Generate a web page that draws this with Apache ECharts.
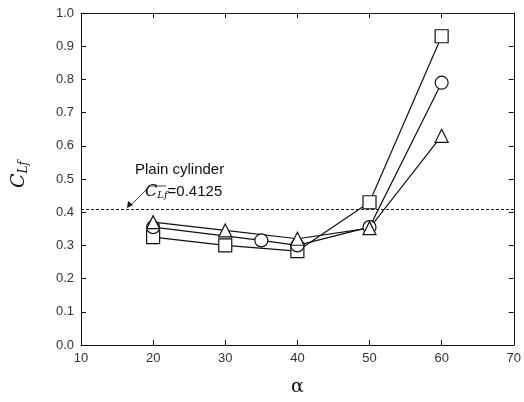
<!DOCTYPE html>
<html>
<head>
<meta charset="utf-8">
<script src="https://cdn.jsdelivr.net/npm/echarts@6/dist/echarts.min.js"></script>
<style>
  html, body { margin: 0; padding: 0; background: #fff; }
  #chart { width: 524px; height: 402px; }
</style>
</head>
<body>
<div id="chart"></div>
<script>
// values
var squareData = [[20, 0.325], [30, 0.300], [40, 0.283], [50, 0.430], [60, 0.930]];
var circleData = [[20, 0.355], [35, 0.315], [40, 0.300], [50, 0.355], [60, 0.790]];
var triangleData = [[20, 0.370], [30, 0.345], [40, 0.320], [50, 0.352], [60, 0.630]];
var plainCylinder = 0.4125;

var font = 'Liberation Sans, Arial, sans-serif';
var ink = '#111';

function series(name, data, symbol, size) {
    return {
        name: name,
        type: 'line',
        data: data,
        symbol: symbol,
        symbolSize: size,
        showAllSymbol: true,
        lineStyle: { color: ink, width: 1.2 },
        itemStyle: { color: '#fff', borderColor: ink, borderWidth: 1.2 },
        emphasis: { disabled: true },
        z: 3
    };
}

function axisOpts(extra) {
    var o = {
        type: 'value',
        axisLine: { show: true, onZero: false, lineStyle: { color: ink, width: 1 } },
        axisTick: { show: true, inside: true, length: 5, lineStyle: { color: ink, width: 1 } },
        splitLine: { show: false }
    };
    for (var k in extra) o[k] = extra[k];
    return o;
}

var chart = echarts.init(document.getElementById('chart'));

chart.setOption({
    animation: false,
    grid: { left: 81, right: 5, top: 13, bottom: 55 },
    xAxis: [
        axisOpts({
            min: 10, max: 70, interval: 10,
            name: 'α', nameLocation: 'middle', nameGap: 33,
            nameTextStyle: { fontFamily: 'DejaVu Serif, serif', fontSize: 19, color: ink },
            axisLabel: { fontFamily: font, fontSize: 13, color: '#333', margin: 7 }
        }),
        axisOpts({
            position: 'top', min: 10, max: 70, interval: 10,
            axisLabel: { show: false }
        })
    ],
    yAxis: [
        axisOpts({
            min: 0, max: 1, interval: 0.1,
            axisLabel: {
                fontFamily: font, fontSize: 13, color: '#333', margin: 7,
                formatter: function (v) { return v.toFixed(1); }
            }
        }),
        axisOpts({
            position: 'right', min: 0, max: 1, interval: 0.1,
            axisLabel: { show: false }
        })
    ],
    series: [
        series('square', squareData, 'rect', 13),
        series('circle', circleData, 'circle', 13),
        series('triangle', triangleData, 'triangle', 13),
        {
            name: 'plain',
            type: 'line',
            data: [],
            markLine: {
                silent: true,
                symbol: ['none', 'none'],
                label: { show: false },
                lineStyle: { color: ink, type: [3, 2], width: 1 },
                data: [{ yAxis: plainCylinder }]
            }
        }
    ],
    graphic: [
        {
            type: 'text', x: 9, y: 188, rotation: Math.PI / 2,
            style: {
                text: '{c|C}{s|Lf}',
                rich: {
                    c: { font: 'italic 19px DejaVu Serif, serif', fill: ink },
                    s: { font: 'italic 12px DejaVu Serif, serif', fill: ink, padding: [9, 0, 0, 0] }
                }
            }
        },
        {
            type: 'text', left: 135, top: 162,
            style: { text: 'Plain cylinder', font: '15px ' + font, fill: ink }
        },
        {
            type: 'text', left: 145, top: 184,
            style: {
                text: '{c|C}{s|Lf}{n|=0.4125}',
                rich: {
                    c: { font: 'italic 16px DejaVu Serif, serif', fill: ink },
                    s: { font: 'italic 10px DejaVu Serif, serif', fill: ink, padding: [7, 0, 0, 0] },
                    n: { font: '15px ' + font, fill: ink }
                }
            }
        },
        {
            type: 'polyline',
            shape: { points: [[166, 186], [150, 186], [131, 205]] },
            style: { stroke: ink, lineWidth: 0.8, fill: null }
        },
        {
            type: 'polygon',
            shape: { points: [[127, 208], [128, 201], [133, 205]] },
            style: { fill: ink }
        }
    ]
});
</script>
</body>
</html>
